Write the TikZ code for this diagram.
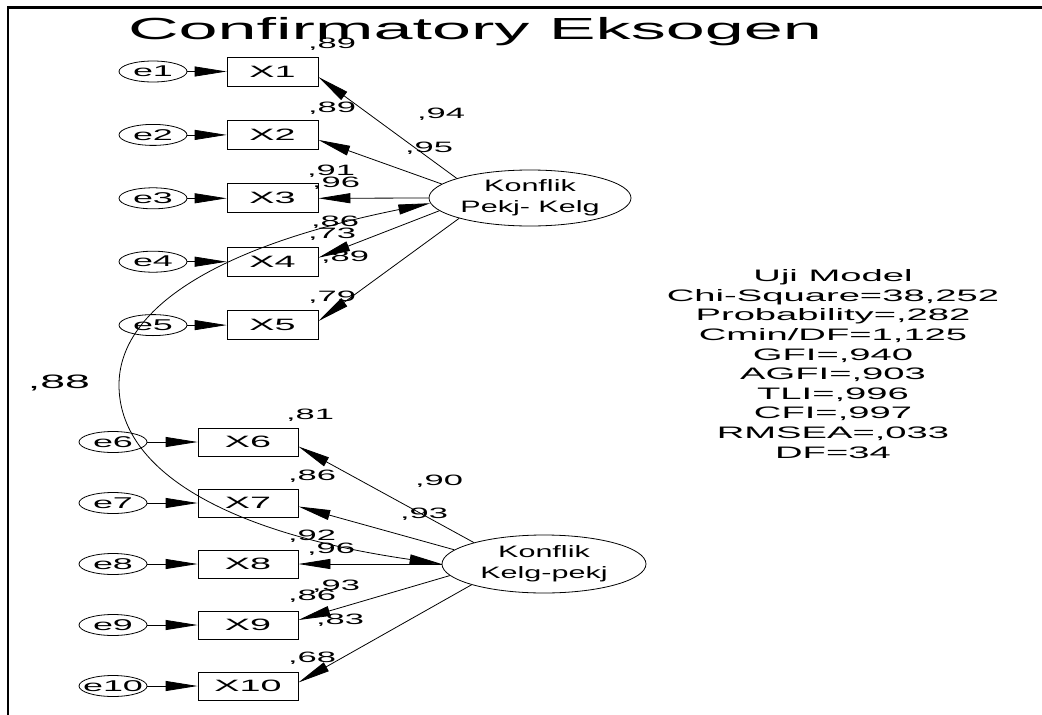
\documentclass[tikz,border=0pt]{standalone}
\usepackage{fontspec}
\setmainfont{Liberation Sans}[FakeStretch=2.3]
\newfontfamily\latentfont{Liberation Sans}[FakeStretch=1.85]
\usetikzlibrary{arrows.meta,shapes.geometric}
\newcommand\zw[1]{\makebox[0pt]{#1}}
\begin{document}
\begin{tikzpicture}[x=1pt,y=-1pt,
  line width=0.8pt,
  tip/.style={-{Triangle[length=32pt,width=10pt]}},
  both/.style={{Triangle[length=32pt,width=10pt]}-{Triangle[length=32pt,width=10pt]}},
  obsA/.style={draw, rectangle, minimum width=91pt, minimum height=29pt, inner sep=0pt, font=\fontsize{16.4}{18}\selectfont},
  obsB/.style={obsA, minimum width=100pt, minimum height=28pt},
  err/.style={draw, ellipse, minimum width=68pt, minimum height=21pt, inner sep=0pt, font=\fontsize{15.6}{17}\selectfont},
  latent/.style={draw, ellipse, minimum width=202pt, minimum height=56pt, inner sep=0pt},
  lattext/.style={align=center, inner sep=0pt, font=\latentfont\fontsize{16.5}{21}\selectfont},
  num/.style={inner sep=0pt, font=\fontsize{15}{17}\selectfont},
  bignum/.style={inner sep=0pt, font=\fontsize{19.4}{21}\selectfont},
  fitstat/.style={align=center, inner sep=0pt, font=\fontsize{16.6}{19.6}\selectfont},
  heading/.style={inner sep=0pt, font=\fontsize{30.5}{33}\selectfont}
]
\useasboundingbox (0,0) rectangle (1042,715);

% frame
\draw[line width=2.7pt] (8,715) -- (8,7.5) -- (1042,7.5);

% title
\node[heading] (ttl) at (475,32) {Confirmatory Eksogen};

% latent variables
\node[latent] (k1) at (530,198) {};
\node[lattext] (k1t) at (k1) {Konflik\\Pekj- Kelg};
\node[latent, minimum width=204pt, minimum height=58pt] (k2) at (544,564) {};
\node[lattext] (k2t) at (k2) {Konflik\\Kelg-pekj};

% indicators, first factor
\foreach \i/\y in {1/71.5,2/134.9,3/198.3,4/261.7,5/325.1}{
  \node[obsA] (x\i) at (272.5,\y) {X\i};
  \node[err] (e\i) at (153,\y) {\zw{e\i}};
}
% indicators, second factor
\foreach \i/\y in {6/442,7/503,8/564,9/625,10/686}{
  \node[obsB] (x\i) at (248,\y) {X\i};
  \node[err] (e\i) at (113,\y) {\zw{e\i}};
}

% squared multiple correlations
\node[num] (r1) at (332,44) {,89};
\node[num] (r2) at (332,108) {,89};
\node[num] (r3) at (331,171) {,91};
\node[num] (r4) at (332,234) {,73};
\node[num] (r5) at (332,297) {,79};
\node[num] (r6) at (310,415) {,81};
\node[num] (r7) at (312,476) {,86};
\node[num] (r8) at (312,536) {,92};
\node[num] (r9) at (312,596) {,86};
\node[num] (r10) at (312,658) {,68};

% loadings
\node[num] (l1) at (441,114) {,94};
\node[num] (l2) at (429,148) {,95};
\node[num] (l3) at (336,183) {,96};
\node[num] (l4) at (335,222) {,86};
\node[num] (l5) at (345,257) {,89};
\node[num] (l6) at (439,481) {,90};
\node[num] (l7) at (424,514) {,93};
\node[num] (l8) at (331,549) {,96};
\node[num] (l9) at (336,586) {,93};
\node[num] (l10) at (340,620) {,83};

% factor correlation
\node[bignum] (rho) at (59,383) {,88};

% fit statistics
\node[fitstat] (gof) at (833,364) {Uji Model\\Chi-Square=38,252\\Probability=,282\\Cmin/DF=1,125\\GFI=,940\\AGFI=,903\\TLI=,996\\CFI=,997\\RMSEA=,033\\DF=34};

% error terms
\foreach \i in {1,...,10}{
  \draw[tip] (e\i.east) -- (x\i.west);
}

% loading paths
\draw[tip] (k1.165) -- ([yshift=-5.5pt]x1.east);
\draw[tip] (k1.171) -- ([yshift=-5pt]x2.east);
\draw[tip] (k1.180) -- (x3.east);
\draw[tip] (k1.188) -- ([yshift=4pt]x4.east);
\draw[tip] (k1.196) -- ([yshift=4pt]x5.east);
\draw[tip] (k2.163) -- ([yshift=-4.5pt]x6.east);
\draw[tip] (k2.171) -- ([yshift=-3.5pt]x7.east);
\draw[tip] (k2.180) -- (x8.east);
\draw[tip] (k2.187) -- ([yshift=5pt]x9.east);
\draw[tip] (k2.196) -- ([yshift=3.5pt]x10.east);

% covariance between the factors
\coordinate (cm) at (119,385);
\draw[both] (k1.183) .. controls (204,249) and (119,314) .. (cm)
  .. controls (119,471) and (227,533) .. (k2.west);
\end{tikzpicture}
\end{document}
